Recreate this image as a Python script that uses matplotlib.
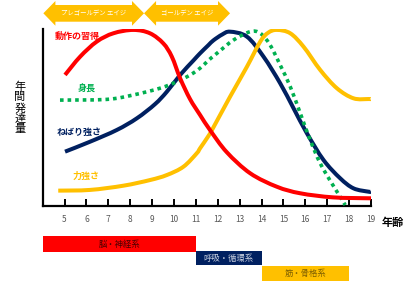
import matplotlib
matplotlib.use("Agg")
import matplotlib.pyplot as plt
from matplotlib.patches import Polygon, PathPatch
from matplotlib.path import Path

plt.rcParams["font.family"] = ["Noto Sans CJK JP", "DejaVu Sans"]

# ---- data ----
ages_ticks = list(range(5, 20))

red_x = [5.02, 5.71, 6.47, 7.23, 8.14, 8.90, 9.51, 9.90, 10.28, 10.73, 11.19,
         11.65, 12.41, 13.48, 14.70, 15.77, 17.27, 18.87, 19.0]
red_y = [73.8, 84.1, 92.6, 97.3, 99.2, 97.3, 91.6, 84.1, 71.9, 60.2, 51.2,
         42.6, 30.2, 18.3, 10.7, 7.0, 4.7, 4.2, 4.2]

navy_x = [5.02, 6.16, 7.38, 8.30, 9.13, 9.67, 10.28, 10.89, 11.19, 11.57, 11.80,
          12.20, 12.56, 13.33, 14.09, 14.85, 15.46, 16.07, 16.83, 17.59, 18.20,
          18.89, 19.0]
navy_y = [30.5, 36.1, 42.7, 49.3, 57.3, 64.3, 73.8, 82.0, 86.0, 90.6, 93.3,
          96.6, 98.2, 95.4, 84.1, 69.1, 55.0, 40.9, 25.8, 15.5, 9.8,
          7.9, 7.9]

green_x = [4.79, 6.93, 8.14, 9.36, 10.13, 10.74, 11.19, 11.57, 11.96, 12.72,
           13.48, 13.94, 14.39, 14.85, 15.31, 15.77, 16.22, 16.68, 17.21,
           17.59, 17.82]
green_y = [59.6, 60.0, 62.5, 66.3, 70.0, 73.8, 77.6, 82.0, 86.0, 93.5,
           98.2, 97.3, 90.7, 79.4, 67.2, 52.1, 37.1, 23.9, 12.6,
           5.1, 0.4]

orange_x = [4.71, 6.16, 7.69, 8.91, 9.67, 10.43, 11.04, 11.19, 11.57, 11.80,
            12.56, 13.33, 13.94, 14.30, 14.70, 15.31, 15.92, 16.68, 17.44,
            18.20, 18.89, 19.0]
orange_y = [8.5, 8.9, 11.3, 14.5, 17.3, 22.0, 29.6, 32.4, 39.3, 44.2,
            61.5, 78.4, 92.6, 97.6, 99.2, 97.3, 89.7, 76.6, 66.3,
            60.6, 60.2, 60.2]

series_labels = ["動作の習得", "身長", "ねばり強さ", "力強さ"]

# periods shown as arrows at the top
period_labels = ["プレゴールデン エイジ", "ゴールデン エイジ"]
period_start = [4.03, 8.63]
period_end = [8.63, 12.56]

# body systems shown as bars below the axis
system_labels = ["脳・神経系", "呼吸・循環系", "筋・骨格系"]
system_start = [4, 11, 14]
system_end = [11, 14, 18]

RED = "#FF0000"
NAVY = "#002060"
GREEN = "#00B050"
ORANGE = "#FFC000"

W, H = 416, 282
fig = plt.figure(figsize=(W / 100, H / 100), dpi=100)
fig.patch.set_facecolor("white")


def px_axes(x0, y0, x1, y1):
    # axes from pixel box (top-left origin)
    return fig.add_axes([x0 / W, 1 - y1 / H, (x1 - x0) / W, (y1 - y0) / H])


def smooth_path(xs, ys):
    # Catmull-Rom smoothing, drawn as cubic bezier segments
    pts = list(zip(xs, ys))
    verts = [pts[0]]
    codes = [Path.MOVETO]
    n = len(pts)
    for i in range(n - 1):
        p0 = pts[i - 1] if i > 0 else pts[i]
        p1, p2 = pts[i], pts[i + 1]
        p3 = pts[i + 2] if i + 2 < n else pts[i + 1]
        c1 = (p1[0] + (p2[0] - p0[0]) / 6, p1[1] + (p2[1] - p0[1]) / 6)
        c2 = (p2[0] - (p3[0] - p1[0]) / 6, p2[1] - (p3[1] - p1[1]) / 6)
        verts += [c1, c2, p2]
        codes += [Path.CURVE4] * 3
    return Path(verts, codes)


def draw_curve(ax, xs, ys, color, lw, z, dashes=None):
    patch = PathPatch(smooth_path(xs, ys), facecolor="none", edgecolor=color,
                      lw=lw, zorder=z, capstyle="butt", joinstyle="round")
    if dashes is not None:
        patch.set_linestyle((0, dashes))
    ax.add_patch(patch)


# ---- main chart ----
ax = px_axes(42.7, 28.5, 371, 205.7)
ax.set_xlim(4, 19)
ax.set_ylim(0, 100)
ax.set_facecolor("none")

draw_curve(ax, navy_x, navy_y, NAVY, 2.9, 3)
draw_curve(ax, green_x, green_y, GREEN, 2.6, 4, dashes=(1.0, 1.1))
draw_curve(ax, orange_x, orange_y, ORANGE, 2.9, 5)
draw_curve(ax, red_x, red_y, RED, 2.9, 6)

for sp in ["top", "right"]:
    ax.spines[sp].set_visible(False)
for sp in ["left", "bottom"]:
    ax.spines[sp].set_linewidth(1.6)
    ax.spines[sp].set_color("black")

ax.set_yticks([])
ax.set_xticks(ages_ticks)
ax.set_xticklabels([str(a) for a in ages_ticks])
ax.tick_params(axis="x", direction="in", length=5, width=1.4, pad=7,
               labelsize=6, labelcolor="#595959", color="black")

# curve labels
label_pos = [(77.5, 36), (86.7, 89.5), (79, 132.5), (86.5, 176)]
label_col = [RED, GREEN, NAVY, ORANGE]
for (px, py), txt, c in zip(label_pos, series_labels, label_col):
    fig.text(px / W, 1 - py / H, txt, color=c, fontsize=6.5, fontweight="bold",
             ha="center", va="center")

# axis titles
fig.text(20 / W, 1 - 108 / H, "\n".join("年間発達量"), fontsize=8,
         ha="center", va="center", linespacing=1.05, color="black")
fig.text(393 / W, 1 - 222 / H, "年齢", fontsize=8, fontweight="bold",
         ha="center", va="center", color="black")

# ---- top arrows ----
axt = px_axes(42.7, 0, 371, 28.5)
axt.set_xlim(4, 19)
axt.set_ylim(28.5, 0)
axt.axis("off")
head = 0.55
for s, e, txt in zip(period_start, period_end, period_labels):
    pts = [(s, 13.3), (s + head, 1), (s + head, 5), (e - head, 5), (e - head, 1),
           (e, 13.3), (e - head, 25.7), (e - head, 21.7), (s + head, 21.7),
           (s + head, 25.7)]
    axt.add_patch(Polygon(pts, closed=True, facecolor=ORANGE, edgecolor="none"))
    axt.text((s + e) / 2, 13.3, txt, color="white", fontsize=4.6,
             ha="center", va="center")

# ---- bottom bars ----
axb = px_axes(42.7, 236, 371, 281)
axb.set_xlim(4, 19)
axb.set_ylim(45, 0)
axb.axis("off")
bar_top = [0, 15, 30]
bar_h = [16, 14, 15]
bar_col = [RED, NAVY, ORANGE]
bar_txt_col = ["#4a0000", "#c8d0e0", "#7f6000"]
for s, e, t, h, c, tc, txt in zip(system_start, system_end, bar_top, bar_h,
                                  bar_col, bar_txt_col, system_labels):
    axb.barh(t + h / 2, e - s, left=s, height=h, color=c, edgecolor="none")
    axb.text((s + e) / 2, t + h / 2, txt, color=tc, fontsize=6,
             ha="center", va="center")

fig.savefig("out.png", dpi=100, facecolor="white")
